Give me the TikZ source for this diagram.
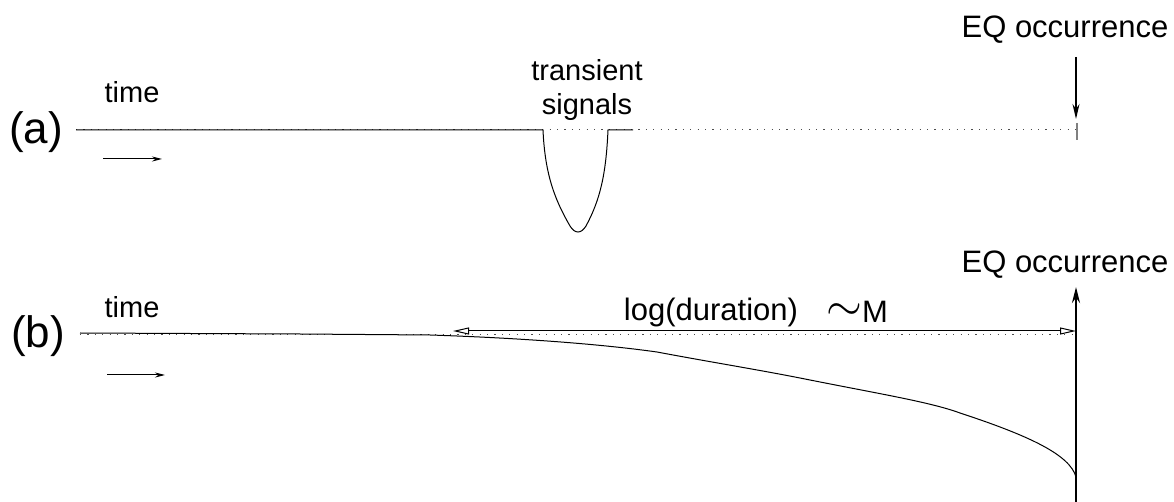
\documentclass[tikz,border=0pt]{standalone}
\usepackage{fontspec}
\setmainfont{Liberation Sans}
\usetikzlibrary{arrows.meta}

\begin{document}
\begin{tikzpicture}[x=0.5pt, y=-0.5pt,
    timeline/.style={black!70, line width=0.5pt, dash pattern=on 0.6pt off 3.1pt},
    signal/.style={black, line width=0.5pt},
    lbl/.style={inner sep=0pt, font=\fontsize{15.5}{18}\selectfont},
    timelbl/.style={inner sep=0pt, font=\fontsize{14.5}{17}\selectfont},
    panel/.style={inner sep=0pt, font=\fontsize{22}{26}\selectfont}]
  \useasboundingbox (0, 0) rectangle (1174, 502);
  % panel (a)
  \node [panel] (pa) at (36, 132) {(a)};
  \node [timelbl] (ta) at (132, 92) {time};
  \coordinate (a0) at (76, 130);
  \coordinate (a1) at (1077, 130);
  \draw [timeline] (a0) -- (a1);
  \draw [signal] (a0) -- (543, 130)
        .. controls (545, 175) and (555, 200) .. (570, 226)
        .. controls (575, 234) and (581, 234) .. (586, 226)
        .. controls (600, 200) and (606, 175) .. (608, 130) -- (633, 130);
  \node [timelbl, align=center] (tr) at (587, 90) {transient\\signals};
  \draw [gray, line width=0.6pt] (1077, 123) -- (1077, 140);
  \node [lbl] (eqa) at (1065, 30) {EQ occurrence};
  \draw [signal, line width=0.7pt, -{Stealth[length=15pt/2, width=7pt/2]}] (1076, 57) -- (1076, 119);
  \draw [signal, -{Stealth[length=10pt/2, width=5pt/2]}] (103, 159) -- (162, 159);
  % panel (b)
  \node [panel] (pb) at (38, 336) {(b)};
  \node [timelbl] (tb) at (132, 307) {time};
  \coordinate (b0) at (80, 335);
  \coordinate (b1) at (1076, 335);
  \draw [timeline] (b0) -- (b1);
  \draw [signal] (80, 333) -- (300, 334) -- (430, 335)
        .. controls (520, 338) and (600, 344) .. (657, 352)
        .. controls (710, 362) and (760, 370) .. (805, 379)
        .. controls (880, 394) and (930, 402) .. (960, 413)
        .. controls (1030, 436) and (1070, 455) .. (1076, 477);
  \coordinate (d0) at (453, 331);
  \coordinate (d1) at (1076, 331);
  \draw [signal, {Triangle[open, length=16pt/2, width=7pt/2]}-{Triangle[open, length=16pt/2, width=7pt/2]}] (d0) -- (d1);
  \node [lbl] (dur) at (711, 312) {log(duration)};
  \node [lbl, anchor=west] (mag) at (826, 312) {\raisebox{1pt}{\scalebox{1.6}{$\sim$}}M};
  \node [lbl] (eqb) at (1065, 265) {EQ occurrence};
  \draw [black, line width=1.2pt, -{Stealth[length=16pt/2, width=8pt/2]}] (1076, 502) -- (1076, 287);
  \draw [signal, -{Stealth[length=10pt/2, width=5pt/2]}] (107, 375) -- (165, 375);
\end{tikzpicture}
\end{document}
